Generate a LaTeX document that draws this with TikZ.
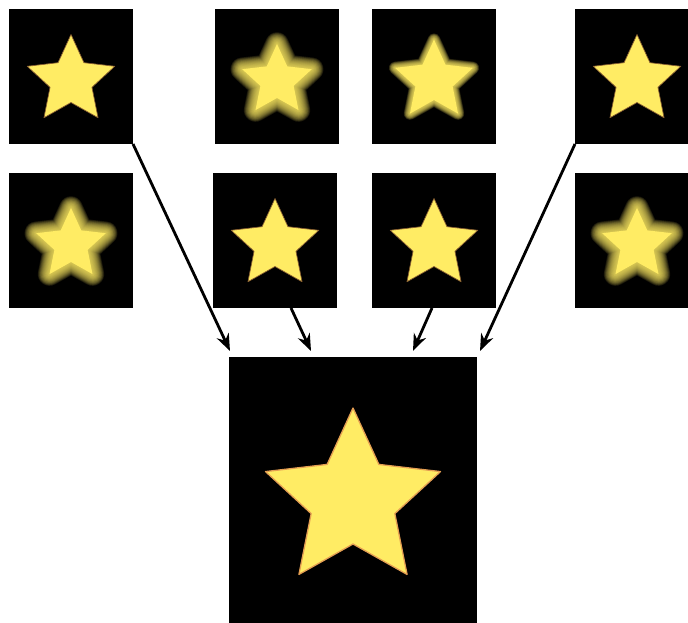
\documentclass[tikz,border=0pt]{standalone}
\usetikzlibrary{arrows.meta,positioning}
\definecolor{starfill}{RGB}{255,236,100}
\definecolor{starline}{RGB}{228,158,82}
\newcommand{\starshape}[2]{(90:#1) -- (126:#2) -- (162:#1) -- (198:#2) -- (234:#1) -- (270:#2) -- (306:#1) -- (342:#2) -- (18:#1) -- (54:#2) -- cycle}
\tikzset{
  imgbox/.style={fill=black, inner sep=0pt, outer sep=0pt, anchor=north west,
    minimum width=124pt, minimum height=135pt},
  bigbox/.style={imgbox, minimum width=248pt, minimum height=270pt},
  feed/.style={-{Stealth[length=17pt,width=13pt]}, line width=2.8pt, black},
  pics/sharpstar/.style={code={
    \filldraw[starfill, draw=starline!60!black, line width=0.7pt, line join=round] \starshape{46}{22};
  }},
  pics/blurstar/.style={code={
    \pgfmathsetmacro\sc{1-0.6*#1/19}
    \foreach \k in {1,...,16}{
      \draw[starfill, opacity=0.11, line join=round, line width={3.6*#1*\k/16}] \starshape{46*\sc}{22*\sc};
    }
    \fill[starfill] \starshape{46*\sc}{22*\sc};
  }},
  pics/bigstar/.style={code={
    \filldraw[starfill, draw=starline, line width=1.3pt, line join=round] \starshape{92}{44};
  }},
}
\begin{document}
\begin{tikzpicture}[x=1pt,y=1pt]
  \useasboundingbox (0,0) rectangle (688,-622);
  \clip (0,0) rectangle (688,-622);

  % input images
  \node[imgbox] (a1) at (9,-9) {};
  \node[imgbox] (a2) at (215,-9) {};
  \node[imgbox] (a3) at (372,-9) {};
  \node[imgbox] (a4) at (575,-9) {};
  \node[imgbox] (b1) at (9,-173) {};
  \node[imgbox] (b2) at (213,-173) {};
  \node[imgbox] (b3) at (372,-173) {};
  \node[imgbox] (b4) at (575,-173) {};

  \pic at ([yshift=-4pt]a1.center) {sharpstar};
  \pic at ([yshift=-4pt]a2.center) {blurstar=6.5};
  \pic at ([yshift=-4pt]a3.center) {blurstar=3.5};
  \pic at ([yshift=-4pt]a4.center) {sharpstar};
  \pic at ([yshift=-4pt]b1.center) {blurstar=6.5};
  \pic at ([yshift=-4pt]b2.center) {sharpstar};
  \pic at ([yshift=-4pt]b3.center) {sharpstar};
  \pic at ([yshift=-4pt]b4.center) {blurstar=6.5};

  % fused result
  \node[bigbox] (big) at (229,-357) {};
  \pic at ([yshift=-8pt]big.center) {bigstar};

  \draw[feed] (a1.south east) -- ([xshift=1pt,yshift=6pt]big.north west);
  \draw[feed] ([xshift=78pt]b2.south west) -- ([xshift=82pt,yshift=6pt]big.north west);
  \draw[feed] ([xshift=60pt]b3.south west) -- ([xshift=184pt,yshift=6pt]big.north west);
  \draw[feed] (a4.south west) -- ([xshift=3pt,yshift=6pt]big.north east);
\end{tikzpicture}
\end{document}
